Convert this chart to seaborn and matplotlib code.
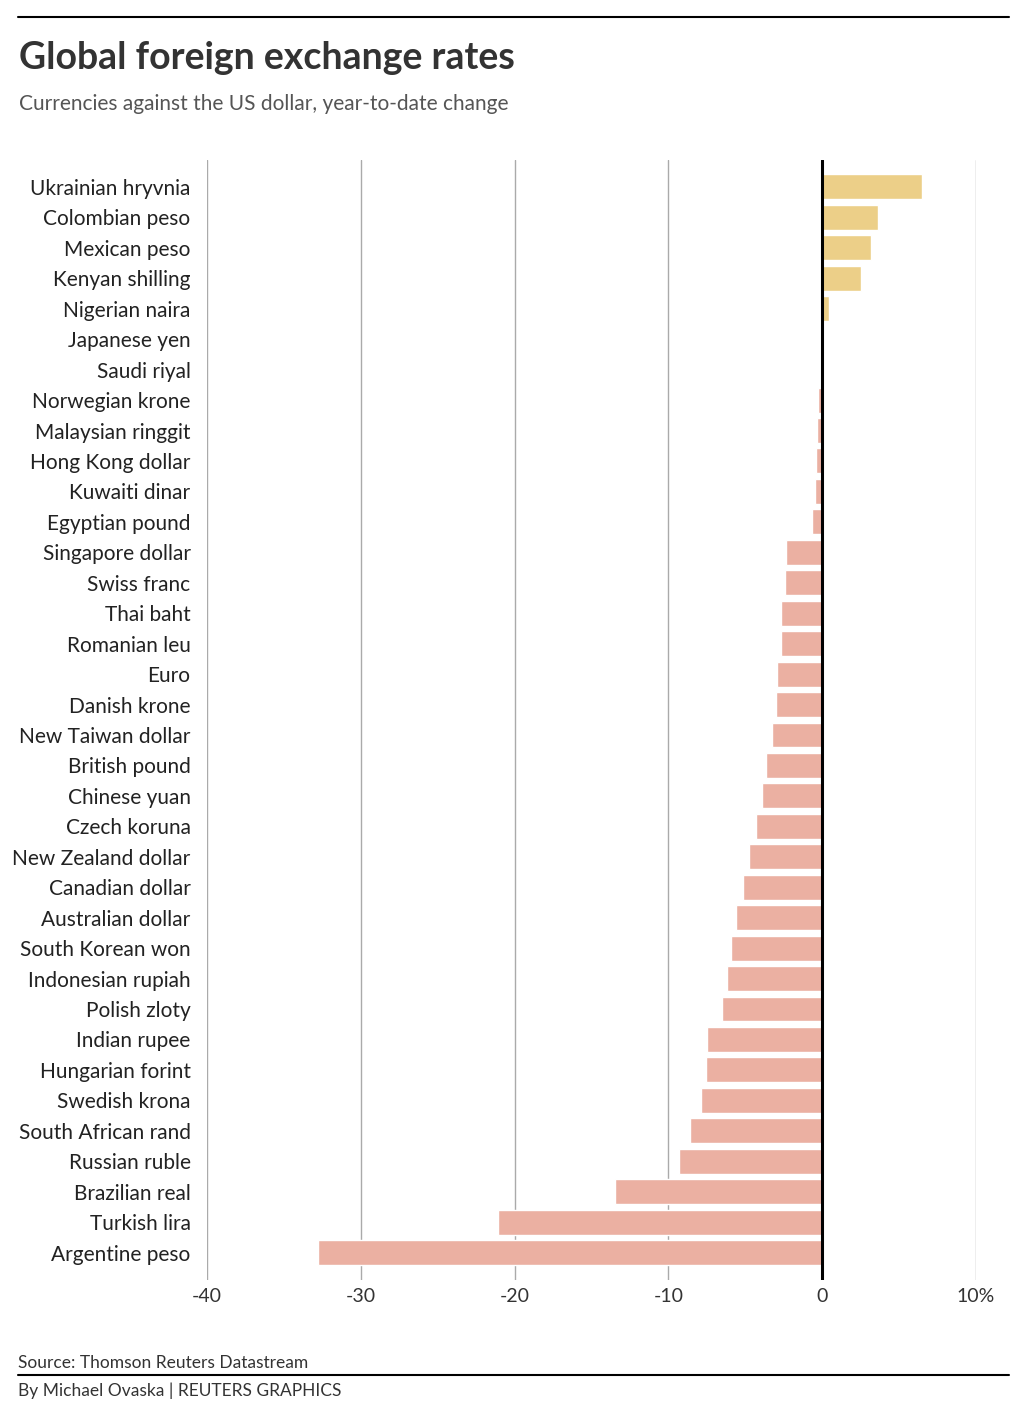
import matplotlib
matplotlib.use("Agg")
import matplotlib.pyplot as plt
import seaborn as sns
import pandas as pd

currencies = ["Ukrainian hryvnia","Colombian peso","Mexican peso","Kenyan shilling","Nigerian naira",
 "Japanese yen","Saudi riyal","Norwegian krone","Malaysian ringgit","Hong Kong dollar","Kuwaiti dinar",
 "Egyptian pound","Singapore dollar","Swiss franc","Thai baht","Romanian leu","Euro","Danish krone",
 "New Taiwan dollar","British pound","Chinese yuan","Czech koruna","New Zealand dollar","Canadian dollar",
 "Australian dollar","South Korean won","Indonesian rupiah","Polish zloty","Indian rupee","Hungarian forint",
 "Swedish krona","South African rand","Russian ruble","Brazilian real","Turkish lira","Argentine peso"]
changes = [6.5,3.6,3.2,2.5,0.45,0.15,0.0,-0.25,-0.35,-0.4,-0.45,-0.65,-2.35,-2.45,-2.65,-2.7,-2.95,-3.0,
 -3.25,-3.65,-3.9,-4.3,-4.75,-5.15,-5.6,-5.9,-6.2,-6.5,-7.5,-7.55,-7.85,-8.6,-9.3,-13.5,-21.1,-32.8]
tick_vals = [-40,-30,-20,-10,0,10]
tick_labels = ["-40","-30","-20","-10","0","10%"]

df = pd.DataFrame({"currency": currencies, "change": changes})
df["sign"] = ["pos" if v >= 0 else "neg" for v in changes]

sns.set_style("white")
plt.rcParams["font.family"] = ["Lato", "DejaVu Sans"]

fig = plt.figure(figsize=(10.36, 14.12), dpi=100)
ax = fig.add_axes([0.2, 0.0935, 0.742, 0.7935])
sns.barplot(data=df, x="change", y="currency", hue="sign", palette={"pos": "#FDD677", "neg": "#F7A996"},
            orient="h", width=0.82, legend=False, ax=ax, zorder=3)
ax.set_xlim(-40, 10)
ax.set_xticks(tick_vals)
ax.set_xticklabels(tick_labels, fontsize=14, color="#333333")
ax.tick_params(axis="y", labelsize=15, colors="#222222", length=0, pad=12)
ax.tick_params(axis="x", length=0, pad=6)
ax.set_xlabel(""); ax.set_ylabel("")
for v in tick_vals:
    if v != 0:
        ax.axvline(v, color="#aaaaaa", lw=1, zorder=1)
ax.axvline(0, color="black", lw=2.2, zorder=4)
for s in ax.spines.values():
    s.set_visible(False)
ax.set_ylim(len(currencies) - 0.1, -0.9)

fig.add_artist(plt.Line2D([0.017, 0.974], [0.988, 0.988], color="black", lw=1.5))
fig.add_artist(plt.Line2D([0.017, 0.974], [0.026, 0.026], color="black", lw=1.5))
fig.text(0.018, 0.959, "Global foreign exchange rates", fontsize=27, fontweight="bold", color="#333333", va="center")
fig.text(0.018, 0.926, "Currencies against the US dollar, year-to-date change", fontsize=15, color="#555555", va="center")
fig.text(0.017, 0.035, "Source: Thomson Reuters Datastream", fontsize=12.5, color="#333333", va="center")
fig.text(0.017, 0.015, "By Michael Ovaska | REUTERS GRAPHICS", fontsize=12.5, color="#333333", va="center")
fig.savefig("out.png", dpi=100)
